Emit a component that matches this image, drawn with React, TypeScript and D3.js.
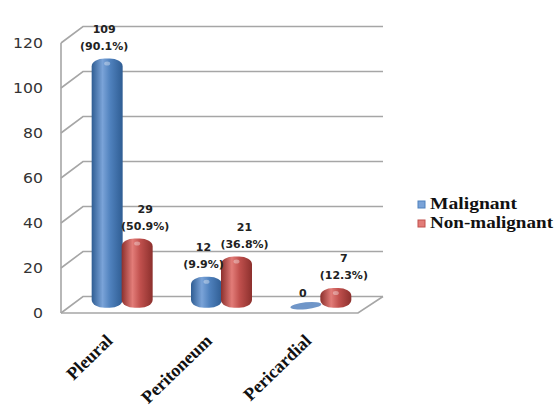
import React from "react";
import * as d3 from "d3";

const categories = ["Pleural", "Peritoneum", "Pericardial"];
const seriesNames = ["Malignant", "Non-malignant"];
const malignant = [109, 12, 0];
const nonMalignant = [29, 21, 7];
const malignantPct = ["90.1%", "9.9%", ""];
const nonMalignantPct = ["50.9%", "36.8%", "12.3%"];
const yTicks = [0, 20, 40, 60, 80, 100, 120];

const W = 555;
const H = 408;
const DX = 22;
const DY = -16.5;

const colors = {
  Malignant: { dark: "#2f5d93", mid: "#4f81bd", light: "#7aa3d8", flat: "#7096c8" },
  "Non-malignant": { dark: "#8c302d", mid: "#c0504d", light: "#e27c78", flat: "#d06a66" },
};

export default function App() {
  const y = d3.scaleLinear().domain([0, 120]).range([313, 43]);
  const x = d3.scaleBand<string>().domain(categories).range([61, 359]).padding(0);
  const xs = d3.scaleBand<string>().domain(seriesNames).range([-30, 30]).padding(0);
  const midX = DX / 2;
  const midY = DY / 2 + 1;

  const frame = "#a6a6a6";
  const bars: React.ReactNode[] = [];
  const labels: React.ReactNode[] = [];

  categories.forEach((c, i) => {
    const cx = (x(c) as number) + x.bandwidth() / 2 + midX;
    seriesNames.forEach((s, j) => {
      const v = j === 0 ? malignant[i] : nonMalignant[i];
      const pct = j === 0 ? malignantPct[i] : nonMalignantPct[i];
      const x0 = cx + (xs(s) as number);
      const w = xs.bandwidth() + 1;
      const base = y(0) + midY;
      const top = y(v) + midY - 2;
      const col = (colors as any)[s];
      if (v === 0) {
        bars.push(
          <ellipse key={`b${i}${j}`} cx={x0 + w / 2} cy={base} rx={w / 2} ry={3.5}
            fill={col.flat} transform={`rotate(-6 ${x0 + w / 2} ${base})`} />
        );
      } else {
        const h = base + 2 - top;
        bars.push(
          <g key={`b${i}${j}`}>
            <rect x={x0} y={top} width={w} height={h} rx={13} ry={Math.min(8, h / 2)}
              fill={`url(#grad${j})`} />
            <ellipse cx={x0 + w * 0.5} cy={top + 5} rx={3} ry={2} fill="#ffffff" opacity={0.35} />
          </g>
        );
      }
      const lx = x0 + w / 2 + (j === 0 ? -3 : 8);
      const lyBase = v === 0 ? base - 9 : top - 9;
      if (pct) {
        labels.push(
          <g key={`l${i}${j}`}>
            <text x={lx} y={lyBase - 17} textAnchor="middle">{v}</text>
            <text x={lx} y={lyBase} textAnchor="middle">({pct})</text>
          </g>
        );
      } else {
        labels.push(
          <text key={`l${i}${j}`} x={lx} y={lyBase} textAnchor="middle">{v}</text>
        );
      }
    });
  });

  const xL = 61;
  const xR = 358;
  return (
    <svg width={W} height={H} style={{ position: "absolute", left: 0, top: 0, background: "#fff" }}>
      <defs>
        {seriesNames.map((s, j) => {
          const col = (colors as any)[s];
          return (
            <linearGradient key={s} id={`grad${j}`} x1="0" x2="1" y1="0" y2="0">
              <stop offset="0" stopColor={col.dark} />
              <stop offset="0.35" stopColor={col.light} />
              <stop offset="0.6" stopColor={col.mid} />
              <stop offset="1" stopColor={col.dark} />
            </linearGradient>
          );
        })}
      </defs>
      <g stroke={frame} strokeWidth={1.6} fill="none">
        {yTicks.map((t) => (
          <path key={t} d={`M${xL},${y(t)}L${xL + DX},${y(t) + DY}L${xR + 25},${y(t) + DY}`} />
        ))}
        <line x1={xL} y1={y(0)} x2={xL} y2={y(120)} />
        <path d={`M${xL},${y(0)}L${xR},${y(0)}L${xR + 25},${y(0) + DY}`} />
      </g>
      <g fontFamily="DejaVu Sans, Verdana, sans-serif" fontSize={14} fill="#333">
        {yTicks.map((t) => (
          <text key={t} transform={`translate(43,${y(t) + 5}) scale(1.12,1)`} textAnchor="end">{t}</text>
        ))}
      </g>
      {bars}
      <g fontFamily="DejaVu Sans, Verdana, sans-serif" fontSize={11} fontWeight="bold" fill="#222">
        {labels}
      </g>
      <g fontFamily="Liberation Serif, Times New Roman, serif" fontSize={18} fontWeight="bold" fill="#111">
        {categories.map((c) => {
          const cx = (x(c) as number) + x.bandwidth() / 2 + 3;
          return (
            <text key={c} transform={`translate(${cx},342) rotate(-44)`} textAnchor="end">{c}</text>
          );
        })}
      </g>
      <g fontFamily="Liberation Serif, Times New Roman, serif" fontSize={16.5} fontWeight="bold" fill="#111">
        {seriesNames.map((s, j) => (
          <g key={s} transform={`translate(418,${201 + j * 19})`}>
            <rect x={0} y={0} width={7} height={7} fill={(colors as any)[s].light} stroke={(colors as any)[s].mid} strokeWidth={1} />
            <text x={12} y={8} textLength={j === 0 ? 87 : 123} lengthAdjust="spacingAndGlyphs">{s}</text>
          </g>
        ))}
      </g>
    </svg>
  );
}
